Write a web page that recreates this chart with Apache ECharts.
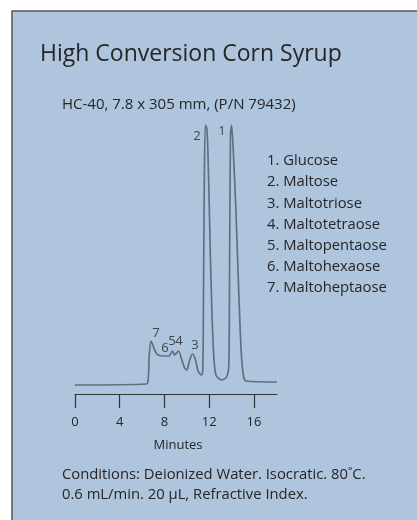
<!DOCTYPE html>
<html><head><meta charset="utf-8">
<style>html,body{margin:0;padding:0;background:#fff}#c{width:417px;height:520px}</style>
<script src="https://cdn.jsdelivr.net/npm/echarts@6/dist/echarts.min.js"></script>
</head><body><div id="c"></div>
<script>
// Retention time (minutes) and detector response (arbitrary units)
const times = [0, 6.4, 6.55, 6.65, 6.8, 6.95, 7.2, 7.45, 7.9, 8.4, 8.7, 8.9, 9.25, 9.5, 9.8, 10.0, 10.25, 10.5, 10.75, 11.0, 11.3, 11.42, 11.47, 11.55, 11.65, 11.8, 11.95, 12.1, 12.25, 12.4, 12.6, 13.1, 13.55, 13.75, 13.82, 13.9, 14.0, 14.15, 14.4, 14.65, 14.85, 15.05, 15.3, 18.05];
const response = [0, 1, 6, 32, 44, 40, 33, 30, 29, 29, 34, 30, 34, 27, 17, 15, 25, 31, 26, 14, 10, 14, 60, 190, 260, 256, 205, 130, 70, 30, 10, 5, 8, 20, 120, 250, 260, 235, 170, 90, 35, 10, 4, 3];
// Peak number labels: [label, time, response]
const peakLabels = [['7', 7.24, 52], ['6', 8.05, 37], ['5', 8.67, 44], ['4', 9.3, 44], ['3', 10.73, 40], ['2', 10.9, 249], ['1', 13.14, 254]];
const xTicks = [0, 4, 8, 12, 16];
const legendItems = ['1. Glucose', '2. Maltose', '3. Maltotriose', '4. Maltotetraose', '5. Maltopentaose', '6. Maltohexaose', '7. Maltoheptaose'];
const titleText = 'High Conversion Corn Syrup';
const subtitleText = 'HC-40, 7.8 x 305 mm, (P/N 79432)';
const conditions = ['Conditions: Deionized Water. Isocratic. 80˚C.', '0.6 mL/min. 20 µL, Refractive Index.'];
const xName = 'Minutes';

const FONT = '"Open Sans", "Noto Sans", sans-serif';
const TXT = '#262626';
const chart = echarts.init(document.getElementById('c'), null, {renderer: 'canvas'});

const graphics = [
  {type: 'rect', z: -100, shape: {x: 12, y: 11, width: 420, height: 530}, style: {fill: '#afc4dd', stroke: '#555', lineWidth: 1.5}},
  {type: 'text', x: 40, y: 54, style: {text: titleText, font: '23px ' + FONT, fill: TXT, verticalAlign: 'middle'}},
  {type: 'text', x: 62, y: 105, style: {text: subtitleText, font: '15px ' + FONT, fill: TXT, verticalAlign: 'middle'}},
  {type: 'text', x: 178, y: 445, style: {text: xName, font: '13px ' + FONT, fill: TXT, align: 'center', verticalAlign: 'middle'}}
];
legendItems.forEach((s, i) => graphics.push({type: 'text', x: 267, y: 161 + i * 21.2, style: {text: s, font: '14.8px ' + FONT, fill: TXT, verticalAlign: 'middle'}}));
conditions.forEach((s, i) => graphics.push({type: 'text', x: 62, y: 475 + i * 20, style: {text: s, font: '14.8px ' + FONT, fill: TXT, verticalAlign: 'middle'}}));

chart.setOption({
  backgroundColor: '#fff',
  animation: false,
  grid: {left: 75, right: 140.1, top: 125, bottom: 126},
  xAxis: {
    type: 'value', min: 0, max: 18.05, interval: 4,
    axisLine: {onZero: false, lineStyle: {color: '#333', width: 1.2}},
    axisTick: {show: true, inside: false, length: 14, customValues: xTicks, lineStyle: {color: '#333', width: 1.2}},
    axisLabel: {customValues: xTicks, margin: 22, fontSize: 13, color: TXT, fontFamily: FONT},
    splitLine: {show: false}
  },
  yAxis: {type: 'value', min: -9, max: 260, show: false},
  graphic: {elements: graphics},
  series: [
    {type: 'line', data: times.map((t, i) => [t, response[i]]), showSymbol: false, smooth: 0.25,
     lineStyle: {color: '#5f7080', width: 1.7}, z: 3},
    {type: 'scatter', data: peakLabels.map(p => [p[1], p[2], p[0]]), symbolSize: 0,
     label: {show: true, position: 'inside', formatter: p => p.value[2], fontSize: 13, color: TXT, fontFamily: FONT}, z: 4}
  ]
});
</script></body></html>
